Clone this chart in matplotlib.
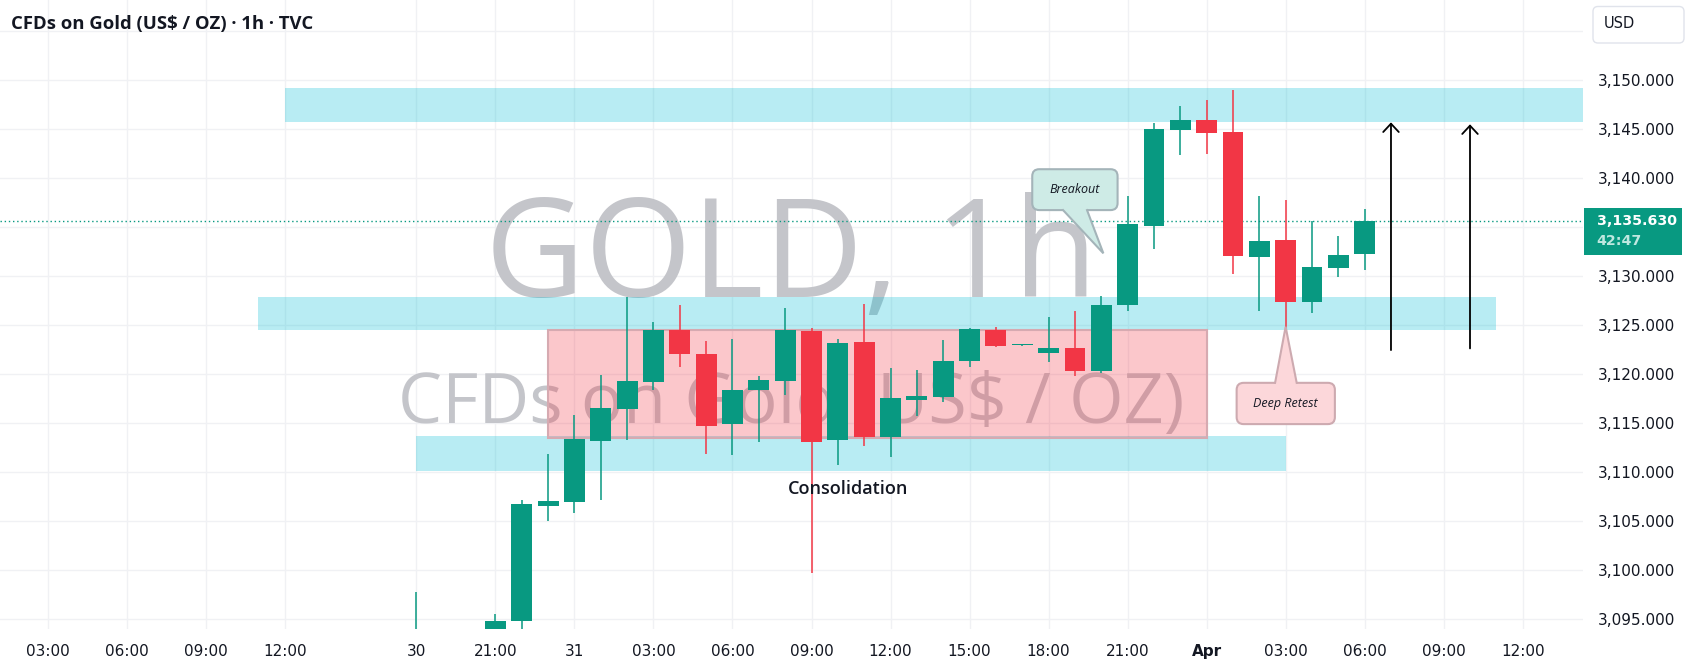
import numpy as np
import matplotlib
matplotlib.use('Agg')
import matplotlib.pyplot as plt
from matplotlib.patches import Rectangle, FancyBboxPatch, Polygon, FancyArrowPatch

# ── 画布 ──────────────────────────────
W, H, DPI = 1691, 671, 100
GREEN = '#089981'
RED = '#f23645'
TXT = '#131722'
SANS = ['Open Sans', 'DejaVu Sans']

# ── K线数据（1h，按图读数）────────────
bar_no = [14, 17, 18, 19, 20, 21, 22, 23, 24, 25, 26, 27, 28, 29, 30, 31, 32,
          33, 34, 35, 36, 37, 38, 39, 40, 41, 42, 43, 44, 45, 46, 47, 48, 49, 50]
opens = [3090.0, 3093.5, 3094.8, 3106.5, 3107.0, 3113.2, 3116.4, 3119.2, 3124.5,
         3122.1, 3114.9, 3118.4, 3119.3, 3124.4, 3113.3, 3123.3, 3113.6, 3117.4,
         3117.7, 3121.3, 3124.5, 3122.93, 3122.2, 3122.65, 3120.35, 3127.1,
         3135.15, 3144.9, 3145.9, 3144.7, 3131.9, 3133.7, 3127.4, 3130.85, 3132.3]
highs = [3097.8, 3095.5, 3107.2, 3111.8, 3115.85, 3119.9, 3127.9, 3125.3, 3127.1,
         3123.4, 3123.6, 3119.8, 3126.7, 3124.7, 3123.6, 3127.2, 3120.6, 3120.4,
         3123.5, 3124.7, 3124.8, 3122.97, 3125.8, 3126.4, 3128.0, 3138.2,
         3145.6, 3147.35, 3148.0, 3149.0, 3138.2, 3137.8, 3135.6, 3134.1, 3136.85]
lows = [3088.5, 3093.0, 3093.8, 3105.0, 3105.8, 3107.2, 3113.3, 3118.4, 3120.75,
        3111.8, 3111.7, 3113.1, 3117.9, 3099.7, 3110.75, 3112.7, 3111.5, 3115.75,
        3117.2, 3120.75, 3122.75, 3122.9, 3121.2, 3119.8, 3120.15, 3126.4,
        3132.8, 3142.4, 3142.5, 3130.25, 3126.4, 3124.0, 3126.2, 3129.9, 3130.65]
closes = [3092.5, 3094.8, 3106.7, 3107.1, 3113.4, 3116.5, 3119.3, 3124.5, 3122.1,
          3114.7, 3118.4, 3119.4, 3124.5, 3113.1, 3123.2, 3113.6, 3117.55, 3117.8,
          3121.3, 3124.6, 3122.9, 3122.95, 3122.65, 3120.35, 3127.1, 3135.3,
          3145.0, 3145.9, 3144.6, 3132.0, 3133.6, 3127.4, 3130.9, 3132.1, 3135.63]

tick_pos = [0, 3, 6, 9, 14, 17, 20, 23, 26, 29, 32, 35, 38, 41, 44, 47, 50, 53, 56]
tick_lbl = ['03:00', '06:00', '09:00', '12:00', '30', '21:00', '31', '03:00',
            '06:00', '09:00', '12:00', '15:00', '18:00', '21:00', 'Apr', '03:00',
            '06:00', '09:00', '12:00']
price_ticks = list(range(3095, 3156, 5))

# 区域 (x0, x1, y0, y1)
zone_top = [9, 60, 3145.75, 3149.15]
zone_mid = [8, 55, 3124.45, 3127.85]
zone_low = [14, 47, 3110.14, 3113.64]
zone_range = [19, 44, 3113.44, 3124.49]

# 标注
breakout_box = [37.38, 40.62, 3136.73, 3140.9]
breakout_base = [38.55, 39.46]
breakout_tip = [40.08, 3132.32]
retest_box = [45.14, 48.87, 3114.9, 3119.11]
retest_base = [46.6, 47.42]
retest_tip = [47.0, 3124.83]
arrow_x = [51, 54]
arrow_from = [3122.45, 3122.62]
arrow_to = [3145.68, 3145.48]

XLIM = (-1.81, 58.29)
YLIM = (3094.0, 3158.16)

# ── 绘图 ──────────────────────────────
fig = plt.figure(figsize=(W / DPI, H / DPI), dpi=DPI)
ax_w, ax_h = 1583, 629
ax = fig.add_axes([0, (H - ax_h) / H, ax_w / W, ax_h / H])
ax.set_xlim(*XLIM)
ax.set_ylim(*YLIM)
for s in ax.spines.values():
    s.set_visible(False)

# 像素比例，用于圆角
px_x = ax_w / (XLIM[1] - XLIM[0])
px_y = ax_h / (YLIM[1] - YLIM[0])
asp = px_x / px_y

# 网格
for p in price_ticks:
    ax.axhline(p, color='#f0f1f4', lw=1, zorder=0)
for t in tick_pos:
    ax.axvline(t, color='#f0f1f4', lw=1, zorder=0)

# 水印
ax.text(0.5, 0.5274, 'GOLD, 1h', transform=ax.transAxes, ha='center', va='baseline',
        fontsize=99, color='#c4c5ca', family=SANS, zorder=1)
ax.text(0.5, 0.327, 'CFDs on Gold (US$ / OZ)', transform=ax.transAxes, ha='center',
        va='baseline', fontsize=50.5, color='#c4c5ca', family=SANS, zorder=1)

# 区域
for z in (zone_top, zone_mid, zone_low):
    ax.add_patch(Rectangle((z[0], z[2]), z[1] - z[0], z[3] - z[2],
                           facecolor='#00bcd4', alpha=0.28, lw=0, zorder=2))
ax.add_patch(Rectangle((zone_range[0], zone_range[2]), zone_range[1] - zone_range[0],
                       zone_range[3] - zone_range[2], facecolor=(242/255, 54/255, 69/255, 0.28),
                       edgecolor='#d6aab1', lw=1.5, zorder=2.5))

# 当前价线
last = closes[-1]
ax.axhline(last, color=GREEN, ls=(0, (1, 2)), lw=1, zorder=3)

# K线
o = np.array(opens); c = np.array(closes)
cols = [GREEN if cc >= oo else RED for oo, cc in zip(o, c)]
ax.vlines(bar_no, lows, highs, colors=cols, lw=1.1, zorder=4)
ax.bar(bar_no, np.maximum(np.abs(c - o), 0.1), bottom=np.minimum(o, c), width=0.79,
       color=cols, lw=0, zorder=5)

ax.text(30.4, 3108.3, 'Consolidation', ha='center', va='center', fontsize=13,
        color=TXT, family=SANS, weight='semibold', zorder=6)


def callout(box, base, tip, fill, edge, label, base_at_top):
    x0, x1, y0, y1 = box
    r = 7 / px_x
    ax.add_patch(FancyBboxPatch((x0, y0), x1 - x0, y1 - y0,
                                boxstyle=f'round,pad=0,rounding_size={r}',
                                mutation_aspect=asp, facecolor=fill, edgecolor=edge,
                                lw=1.5, zorder=7))
    by = y1 if base_at_top else y0
    inset = -0.35 if base_at_top else 0.35
    ax.add_patch(Polygon([(base[0], by + inset), (base[0], by), tuple(tip),
                          (base[1], by), (base[1], by + inset)],
                         closed=True, facecolor=fill, lw=0, zorder=7.5))
    ax.plot([base[0], tip[0], base[1]], [by, tip[1], by], color=edge, lw=1.5,
            zorder=7.6, solid_joinstyle='miter')
    ax.text((x0 + x1) / 2, (y0 + y1) / 2, label, ha='center', va='center', fontsize=9,
            style='italic', color=TXT, family=SANS, zorder=8)


callout(breakout_box, breakout_base, breakout_tip, '#ceebe6', '#a4b4b9', 'Breakout', False)
callout(retest_box, retest_base, retest_tip, '#fcd7da', '#cdaab0', 'Deep Retest', True)

for xa, ya, yb in zip(arrow_x, arrow_from, arrow_to):
    ax.add_patch(FancyArrowPatch((xa, ya), (xa, yb),
                                 arrowstyle='->,head_length=0.3,head_width=0.28',
                                 mutation_scale=20, lw=1.3, color='black',
                                 shrinkA=0, shrinkB=0, zorder=8))

# 坐标轴
ax.yaxis.tick_right()
ax.set_yticks(price_ticks)
ax.set_yticklabels([f'{p:,.3f}' if p <= 3150 else '' for p in price_ticks])
ax.set_xticks(tick_pos)
ax.set_xticklabels(tick_lbl)
ax.tick_params(axis='y', length=0, pad=10.6, labelsize=11, labelcolor=TXT)
ax.tick_params(axis='x', length=0, pad=10.5, labelsize=11, labelcolor=TXT)
ax.get_xticklabels()[tick_lbl.index('Apr')].set_fontweight('bold')

# 价格标签
ytr = ax.get_yaxis_transform()
ax.add_patch(Rectangle((1 + 1 / ax_w, last - 3.49), 98.3 / ax_w, 4.77, transform=ytr,
                       facecolor=GREEN, lw=0, clip_on=False, zorder=9))
ax.text(1 + 13.5 / ax_w, last, f'{last:,.3f}', transform=ytr, ha='left', va='center',
        fontsize=10.2, weight='bold', color='white', clip_on=False, zorder=10)
ax.text(1 + 13.5 / ax_w, last - 2.05, '42:47', transform=ytr, ha='left', va='center',
        fontsize=10.2, weight='bold', color='#bfe8e0', clip_on=False, zorder=10)

# USD 按钮
fig.patches.append(FancyBboxPatch((1593 / W, (H - 43) / H), 91 / W, 36.5 / H,
                                  boxstyle=f'round,pad=0,rounding_size={5 / W}',
                                  mutation_aspect=W / H, facecolor='white',
                                  edgecolor='#e0e3eb', lw=1, transform=fig.transFigure))
fig.text(1603.5 / W, 1 - 24 / H, 'USD', ha='left', va='center', fontsize=10.5, color=TXT)

# 标题
fig.text(11 / W, 1 - 24 / H, 'CFDs on Gold (US$ / OZ) · 1h · TVC', ha='left', va='center',
         fontsize=13.3, weight='bold', color=TXT, family=SANS)

fig.savefig('out.png', dpi=DPI)
